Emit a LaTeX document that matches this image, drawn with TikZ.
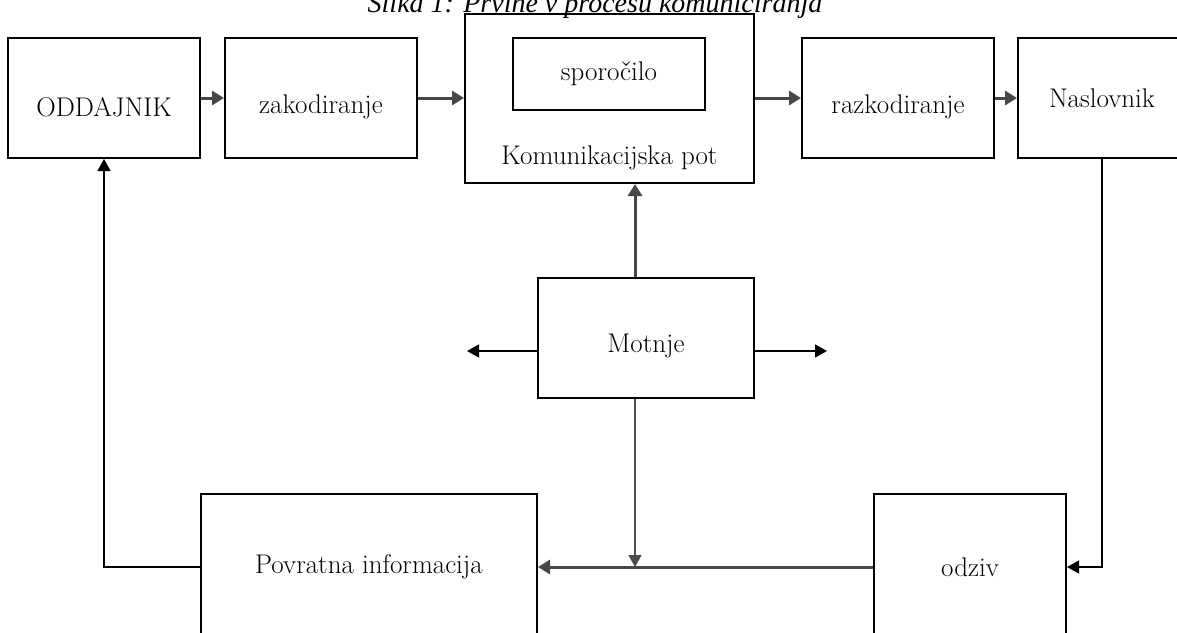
\documentclass[tikz,border=0pt]{standalone}
\usepackage{fontspec}
\newfontfamily\titlefont{Liberation Serif}
\usetikzlibrary{arrows.meta,calc}
\newcommand{\lowtext}[2]{\raisebox{-#1}[\height][\depth]{#2}}
\tikzset{
  box/.style={draw,line width=2pt,minimum width=192pt,minimum height=120pt,
    inner sep=0pt,font=\fontsize{27}{30}\selectfont},
  flow/.style={-{Triangle[length=12pt,width=14pt]},line width=3pt,color=black!72},
  loop/.style={-{Triangle[length=12pt,width=13pt]},line width=1.6pt}
}
\begin{document}
\begin{tikzpicture}[x=1pt,y=-1pt]
            \useasboundingbox (0,0) rectangle (1177,632);
            % Title
            \node [anchor=base,font=\titlefont\itshape\fontsize{28}{30}\selectfont] (title) at (595,12) {Slika 1: Prvine v procesu komuniciranja};

            % Top row
            \node [box] (odd) at (104,98) {\lowtext{9pt}{ODDAJNIK}};
            \node [box] (zak) at (321,98) {\lowtext{9pt}{zakodiranje}};
            \node [box,minimum width=289pt,minimum height=169pt] (pot) at (609.5,98.5) {};
            \node [box,minimum height=72pt] (spo) at (609,74) {sporočilo};
            \node [font=\fontsize{27}{30}\selectfont] (potlbl) at (609.5,158) {Komunikacijska pot};
            \node [box] (raz) at (898,98) {\lowtext{9pt}{razkodiranje}};
            \node [box,minimum width=168pt] (nas) at (1102,98) {Naslovnik};

            % Middle and bottom
            \node [box,minimum width=216pt] (mot) at (646,338) {\lowtext{8pt}{Motnje}};
            \node [box,minimum width=336pt,minimum height=146pt] (pov) at (369,567) {Povratna informacija};
            \node [box,minimum height=146pt] (odz) at (970,567) {odziv};

            \coordinate (vx) at (635,0);
            \coordinate (hy) at (0,351);
            \coordinate (mleft) at (467,351);
            \coordinate (mright) at (827,351);

            \draw [flow] (odd) -- (zak);
            \draw [flow] (zak) -- (zak -| pot.west);
            \draw [flow] (pot.east |- raz) -- (raz);
            \draw [flow] (raz) -- (nas);

            \draw [flow] (vx |- mot.north) -- (vx |- pot.south);
            \draw [loop] (mot.west |- hy) -- (mleft);
            \draw [loop] (mot.east |- hy) -- (mright);
            \draw [loop,color=black!70] (vx |- mot.south) -- (vx |- pov.east);
            \draw [flow] (odz.west) -- (pov.east);

            \draw [loop] (pov.west) -| (odd.south);
            \draw [loop] (nas.south) |- (odz.east);
\end{tikzpicture}
\end{document}
